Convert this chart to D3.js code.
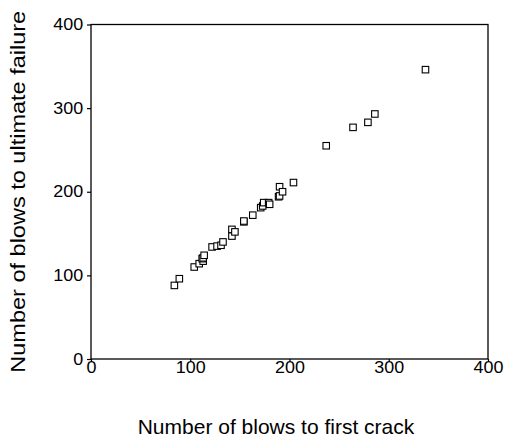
<!DOCTYPE html>
<html>
<head>
<meta charset="utf-8">
<script src="https://cdn.jsdelivr.net/npm/d3@7"></script>
<style>
  html, body { margin: 0; padding: 0; background: #fff; }
  svg { display: block; font-family: "Liberation Sans", Arial, sans-serif; }
</style>
</head>
<body>
<svg id="chart" width="508" height="441"></svg>
<script>
// Blows to first crack vs. blows to ultimate failure, one point per specimen
const firstCrack = [84, 89, 104, 109, 113, 112, 113, 114, 122, 127, 131, 133, 142, 142, 145,
  154, 154, 163, 171, 173, 174, 179, 180, 189, 190, 190, 193, 204, 237, 264, 279, 286, 337];
const ultimateFailure = [88, 96, 110, 114, 117, 120, 121, 124, 134, 135, 136, 140, 147, 155, 152,
  164, 165, 172, 181, 183, 187, 187, 185, 194, 195, 206, 200, 211, 255, 277, 283, 293, 346];
const xTicks = [0, 100, 200, 300, 400];
const yTicks = [0, 100, 200, 300, 400];

const svg = d3.select("#chart");
const plot = { left: 91, right: 488, top: 24.5, bottom: 359 };

const x = d3.scaleLinear().domain([0, 400]).range([plot.left, plot.right]);
const y = d3.scaleLinear().domain([0, 400]).range([plot.bottom, plot.top]);

// frame
svg.append("rect")
  .attr("x", plot.left).attr("y", plot.top)
  .attr("width", plot.right - plot.left).attr("height", plot.bottom - plot.top)
  .attr("fill", "none").attr("stroke", "#000").attr("stroke-width", 1.3);

const xAxis = svg.append("g")
  .attr("transform", `translate(0,${plot.bottom})`)
  .call(d3.axisBottom(x).tickValues(xTicks).tickSize(3).tickPadding(0));
const yAxis = svg.append("g")
  .attr("transform", `translate(${plot.left},0)`)
  .call(d3.axisLeft(y).tickValues(yTicks).tickSize(4).tickPadding(3));

[xAxis, yAxis].forEach(g => {
  g.select(".domain").remove();
  g.selectAll("line").attr("stroke", "#000").attr("stroke-width", 1.2);
  g.selectAll("text").attr("fill", "#000")
    .style("font-family", "'Liberation Sans', Arial, sans-serif")
    .style("font-size", "16px")
    .attr("transform", "scale(1.12,1)");
});

// markers
const s = 6.5;
svg.append("g").selectAll("rect")
  .data(firstCrack.map((d, i) => [d, ultimateFailure[i]]))
  .join("rect")
  .attr("x", d => x(d[0]) - s / 2)
  .attr("y", d => y(d[1]) - s / 2)
  .attr("width", s).attr("height", s)
  .attr("fill", "#fff").attr("stroke", "#000").attr("stroke-width", 1.1);

// axis titles
svg.append("text")
  .attr("x", 276).attr("y", 434)
  .attr("text-anchor", "middle")
  .style("font-size", "21px")
  .text("Number of blows to first crack");

svg.append("text")
  .attr("transform", `translate(25,${(plot.top + plot.bottom) / 2}) rotate(-90) scale(1.12,1)`)
  .attr("text-anchor", "middle")
  .style("font-size", "21px")
  .text("Number of blows to ultimate failure");
</script>
</body>
</html>
